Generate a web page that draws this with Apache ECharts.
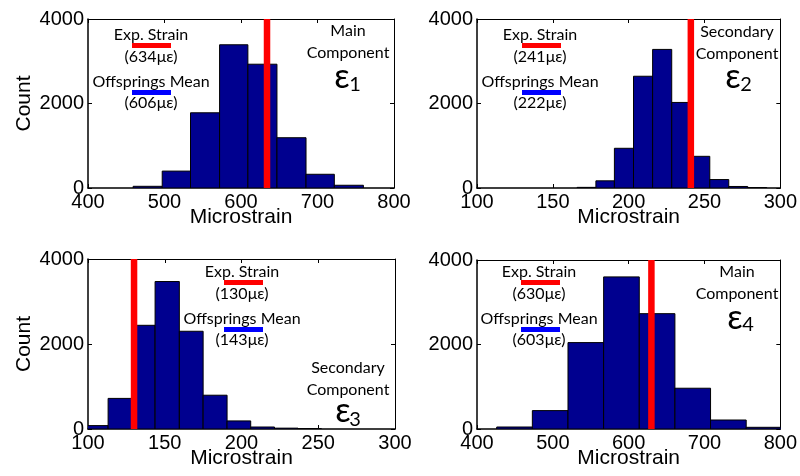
<!DOCTYPE html>
<html>
<head>
<meta charset="utf-8">
<script src="https://cdn.jsdelivr.net/npm/echarts@6/dist/echarts.min.js"></script>
<style>
  html, body { margin: 0; padding: 0; background: #fff; }
  #main { width: 800px; height: 476px; }
</style>
</head>
<body>
<div id="main"></div>
<script>
// Histogram bin edges and counts for the four strain components
const e1Edges  = [459, 497, 534, 572, 609, 647, 685, 722, 760];
const e1Counts = [40, 400, 1780, 3390, 2930, 1190, 325, 65];
const e1Exp = 634, e1Mean = 606;

const e2Edges  = [166, 178.4, 190.6, 203.2, 215.8, 228.4, 241, 253.5, 266, 278.5, 291];
const e2Counts = [15, 170, 940, 2645, 3280, 2025, 750, 200, 36, 10];
const e2Exp = 241, e2Mean = 222;

const e3Edges  = [97.8, 113.1, 128.4, 143.7, 159.5, 175, 190.6, 206, 221.5, 236.8, 252];
const e3Counts = [80, 720, 2440, 3470, 2300, 795, 190, 47, 20, 10];
const e3Exp = 130, e3Mean = 143;

const e4Edges  = [426, 473, 520, 567, 614, 661, 708, 755, 802];
const e4Counts = [47, 435, 2045, 3600, 2730, 965, 213, 40];
const e4Exp = 630, e4Mean = 603;

// Axis ranges
const xRangeMain = [400, 800, 100];
const xRangeSec  = [100, 300, 50];
const yTicks = [0, 4000, 2000];

const panels = [
  { edges: e1Edges, counts: e1Counts, exp: e1Exp, mean: e1Mean, xr: xRangeMain, kind: ['Main', 'Component'], sub: '1',
    grid: { left: 88, top: 19, width: 306, height: 169 }, showCount: true },
  { edges: e2Edges, counts: e2Counts, exp: e2Exp, mean: e2Mean, xr: xRangeSec, kind: ['Secondary', 'Component'], sub: '2',
    grid: { left: 477, top: 19, width: 305, height: 169 }, showCount: false },
  { edges: e3Edges, counts: e3Counts, exp: e3Exp, mean: e3Mean, xr: xRangeSec, kind: ['Secondary', 'Component'], sub: '3',
    grid: { left: 88, top: 259, width: 307, height: 170 }, showCount: true },
  { edges: e4Edges, counts: e4Counts, exp: e4Exp, mean: e4Mean, xr: xRangeMain, kind: ['Main', 'Component'], sub: '4',
    grid: { left: 477, top: 260, width: 305, height: 169 }, showCount: false }
];

// Annotation placement per panel (legend block, component caption, epsilon symbol)
const notePos = [
  { lx: 151, ly: 35, barX: 132, mx: 348, my: 31, ex: 342, ey: 77, sx: 355, sy: 85 },
  { lx: 540, ly: 35, barX: 522, mx: 737, my: 32, ex: 733, ey: 77, sx: 746, sy: 85 },
  { lx: 242, ly: 272, barX: 224, mx: 348, my: 368, ex: 343, ey: 411, sx: 355, sy: 420 },
  { lx: 539, ly: 272, barX: 521, mx: 737, my: 272, ex: 735, ey: 318, sx: 748, sy: 325 }
];

const tickFont = 'Liberation Sans, Arial, sans-serif';
const noteFont = 'Lato, "Noto Sans", sans-serif';

const grids = [], xAxes = [], yAxes = [], series = [], graphics = [];

panels.forEach((p, i) => {
  grids.push(Object.assign({ containLabel: false }, p.grid));
  const [xmin, xmax, xint] = p.xr;
  const [ymin, ymax, yint] = yTicks;

  // bottom x axis
  xAxes.push({
    type: 'value', gridIndex: i, min: xmin, max: xmax, interval: xint, position: 'bottom',
    name: 'Microstrain', nameLocation: 'middle', nameGap: 19, nameMoveOverlap: false,
    nameTextStyle: { fontFamily: tickFont, fontSize: 21, color: '#000' },
    axisLine: { show: true, onZero: false, lineStyle: { color: '#000', width: 1.5 } },
    axisTick: { show: true, inside: true, length: 4, lineStyle: { color: '#000' } },
    axisLabel: { fontFamily: tickFont, fontSize: 20, color: '#000', margin: 4, showMinLabel: true, showMaxLabel: true,
      formatter: v => String(v) },
    splitLine: { show: false }
  });
  // top x axis (box edge)
  xAxes.push({
    type: 'value', gridIndex: i, min: xmin, max: xmax, interval: xint, position: 'top',
    axisLine: { show: true, onZero: false, lineStyle: { color: '#000', width: 1 } },
    axisTick: { show: true, inside: true, length: 4, lineStyle: { color: '#000' } },
    axisLabel: { show: false }, splitLine: { show: false }
  });
  // left y axis
  yAxes.push({
    type: 'value', gridIndex: i, min: ymin, max: ymax, interval: yint, position: 'left',
    name: p.showCount ? 'Count' : '', nameLocation: 'middle', nameGap: 53, nameMoveOverlap: false,
    nameTextStyle: { fontFamily: tickFont, fontSize: 21, color: '#000' },
    axisLine: { show: true, onZero: false, lineStyle: { color: '#000', width: 1.5 } },
    axisTick: { show: true, inside: true, length: 4, lineStyle: { color: '#000' } },
    axisLabel: { fontFamily: tickFont, fontSize: 20, color: '#000', margin: 4, formatter: v => String(v) },
    splitLine: { show: false }
  });
  // right y axis (box edge)
  yAxes.push({
    type: 'value', gridIndex: i, min: ymin, max: ymax, interval: yint, position: 'right',
    axisLine: { show: true, onZero: false, lineStyle: { color: '#000', width: 1 } },
    axisTick: { show: true, inside: true, length: 4, lineStyle: { color: '#000' } },
    axisLabel: { show: false }, splitLine: { show: false }
  });

  // histogram bars: [binStart, binEnd, count]
  const bins = p.counts.map((c, k) => [p.edges[k], p.edges[k + 1], c]);
  series.push({
    type: 'custom', xAxisIndex: 2 * i, yAxisIndex: 2 * i, clip: true,
    encode: { x: [0, 1], y: 2 },
    data: bins,
    renderItem: (params, api) => {
      const a = api.coord([api.value(0), api.value(2)]);
      const b = api.coord([api.value(1), 0]);
      return {
        type: 'rect',
        shape: { x: a[0], y: a[1], width: b[0] - a[0], height: b[1] - a[1] },
        style: { fill: '#00008f', stroke: '#000', lineWidth: 1 }
      };
    },
    z: 2
  });

  // experimental strain marker
  series.push({
    type: 'line', xAxisIndex: 2 * i, yAxisIndex: 2 * i,
    data: [[p.exp, ymin], [p.exp, ymax]],
    symbol: 'none', silent: true,
    lineStyle: { color: '#ff0000', width: 6.5, cap: 'butt' },
    z: 3
  });

  // legend-style annotations
  const n = notePos[i];
  const txt = (x, y, s, size) => ({
    type: 'text', x: x, y: y, z: 10,
    style: { text: s, fill: '#000', font: size + 'px ' + noteFont, textAlign: 'center', textVerticalAlign: 'middle' }
  });
  graphics.push(txt(n.lx, n.ly, 'Exp. Strain', 16));
  graphics.push({ type: 'rect', z: 10, shape: { x: n.barX, y: n.ly + 8, width: 39, height: 5 }, style: { fill: '#ff0000' } });
  graphics.push(txt(n.lx, n.ly + 22, '(' + p.exp + 'με)', 16));
  graphics.push(txt(n.lx, n.ly + 47, 'Offsprings Mean', 16));
  graphics.push({ type: 'rect', z: 10, shape: { x: n.barX, y: n.ly + 55, width: 39, height: 5 }, style: { fill: '#0000ff' } });
  graphics.push(txt(n.lx, n.ly + 68, '(' + p.mean + 'με)', 16));
  graphics.push(txt(n.mx, n.my, p.kind[0], 16));
  graphics.push(txt(n.mx, n.my + 22, p.kind[1], 16));
  graphics.push(txt(n.ex, n.ey, 'ε', 34));
  graphics.push(txt(n.sx, n.sy, p.sub, 20));
});

const chart = echarts.init(document.getElementById('main'), null, { renderer: 'canvas' });
chart.setOption({
  animation: false,
  backgroundColor: '#fff',
  grid: grids,
  xAxis: xAxes,
  yAxis: yAxes,
  series: series,
  graphic: graphics
});
</script>
</body>
</html>
